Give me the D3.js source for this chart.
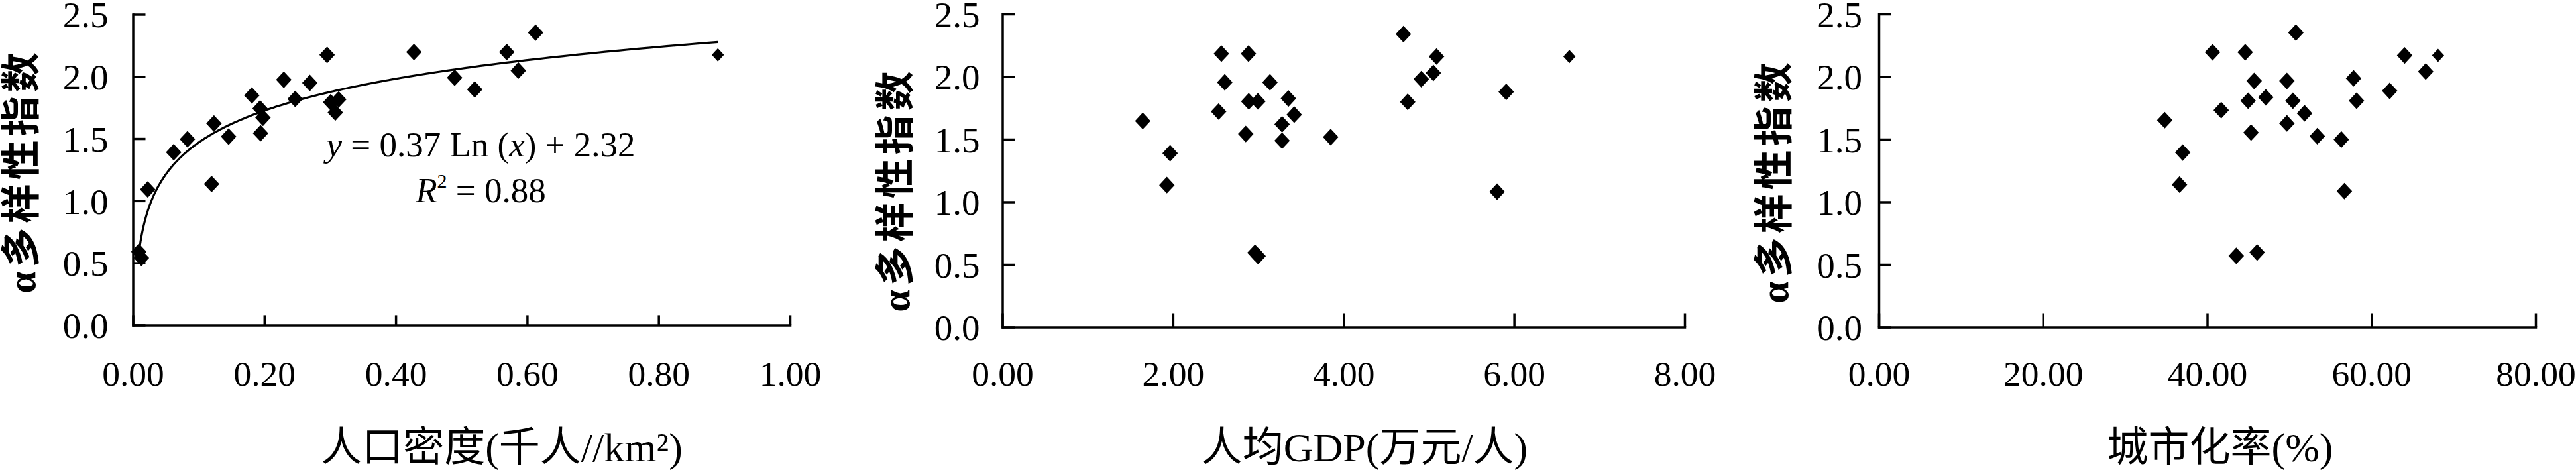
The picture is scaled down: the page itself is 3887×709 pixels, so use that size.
<!DOCTYPE html>
<html><head><meta charset="utf-8">
<script src="https://cdn.jsdelivr.net/npm/d3@7"></script>
<style>body{margin:0;background:#fff}</style>
</head><body><svg id="c"></svg>
<script>
// ---------- data ----------
const densityX = [0.009,0.013,0.0226,0.0621,0.0831,0.1198,0.1234,0.1457,0.181,0.1936,0.198,0.1943,0.2297,0.247,0.2693,0.2956,0.301,0.3132,0.3081,0.4277,0.4897,0.5203,0.569,0.5866,0.6129];
const densityY = [0.59,0.54,1.091,1.390,1.495,1.135,1.621,1.516,1.847,1.742,1.668,1.543,1.973,1.819,1.948,2.173,1.792,1.815,1.710,2.196,1.990,1.895,2.196,2.047,2.352];
const densityX2 = [0.8903];
const densityY2 = [2.173];

const gdpX = [1.646,1.967,1.929,2.568,2.886,2.608,3.138,2.889,2.996,3.354,2.536,3.422,3.280,2.854,3.280,3.850,2.962,2.999,4.703,4.753,5.091,5.054,4.912,5.908,5.801];
const gdpY = [1.646,1.388,1.134,2.183,2.183,1.954,1.954,1.802,1.802,1.825,1.721,1.696,1.619,1.542,1.488,1.517,0.594,0.567,2.339,1.798,2.160,2.029,1.980,1.878,1.081];
const gdpX2 = [6.649];
const gdpY2 = [2.160];

const urbanX = [34.83,37.02,36.63,40.65,44.63,50.80,45.72,49.71,44.99,47.14,50.44,41.71,51.86,49.71,45.34,43.54,46.08,53.41,56.34,56.71,57.83,58.19,62.23,64.05,66.62];
const urbanY = [1.652,1.394,1.138,2.194,2.194,2.351,1.965,1.965,1.807,1.834,1.807,1.732,1.707,1.626,1.553,0.569,0.596,1.524,1.498,1.086,1.986,1.807,1.886,2.169,2.040];
const urbanX2 = [68.12];
const urbanY2 = [2.169];

const yTicks = [0,0.5,1.0,1.5,2.0,2.5];
const densityTicks = [0,0.2,0.4,0.6,0.8,1.0];
const gdpTicks = [0,2,4,6,8];
const urbanTicks = [0,20,40,60,80];

const yTitle = "α多样性指数";
const xTitles = ["人口密度(千人//km²)", "人均GDP(万元/人)", "城市化率(%)"];
const trendA = 0.37, trendB = 2.32;
const eqR2 = "0.88";

// ---------- drawing ----------
const W = 3887, H = 709;
const svg = d3.select("#c").attr("width", W).attr("height", H);
svg.append("rect").attr("width", W).attr("height", H).attr("fill", "#fff");

const NUM = "'Liberation Serif','Times New Roman',serif";
const CJK = "'Liberation Serif','Noto Sans CJK SC',serif";

const panels = [
  {xs: densityX, ys: densityY, xs2: densityX2, ys2: densityY2, ticks: densityTicks, fmt: ".2f",
   title: xTitles[0], x0: 200.5, x1: 1192, yb: 490.4, yt: 21.5, ylGap: 37, xTick: 15,
   ytX: 32.5, ytY: 258, xtX: 757, trend: true},
  {xs: gdpX, ys: gdpY, xs2: gdpX2, ys2: gdpY2, ticks: gdpTicks, fmt: ".2f",
   title: xTitles[1], x0: 1512.5, x1: 2542, yb: 493.5, yt: 21, ylGap: 34, xTick: 21,
   ytX: 1352, ytY: 286, xtX: 2059, trend: false},
  {xs: urbanX, ys: urbanY, xs2: urbanX2, ys2: urbanY2, ticks: urbanTicks, fmt: ".2f",
   title: xTitles[2], x0: 2835, x1: 3826, yb: 493.5, yt: 21, ylGap: 25, xTick: 21,
   ytX: 2678, ytY: 273, xtX: 3350, trend: false}
];

function diamond(hw, hh) {
  return `M0,${-hh}L${hw},0L0,${hh}L${-hw},0Z`;
}

panels.forEach(p => {
  const x = d3.scaleLinear().domain([p.ticks[0], p.ticks[p.ticks.length - 1]]).range([p.x0, p.x1]);
  const y = d3.scaleLinear().domain([0, 2.5]).range([p.yb, p.yt]);

  // x axis
  const gx = svg.append("g").attr("transform", `translate(0,${p.yb})`)
    .call(d3.axisBottom(x).tickValues(p.ticks).tickFormat(d3.format(p.fmt))
      .tickSizeInner(-p.xTick).tickSizeOuter(0));
  gx.selectAll("path,line").attr("stroke", "#000").attr("stroke-width", 3.5);
  gx.select(".domain").attr("stroke-linecap", "square");
  gx.selectAll("text").attr("y", 582 - p.yb).attr("dy", 0)
    .attr("font-family", NUM).attr("font-size", 53.5).attr("fill", "#000");

  // y axis
  const gy = svg.append("g").attr("transform", `translate(${p.x0},0)`)
    .call(d3.axisLeft(y).tickValues(yTicks).tickFormat(d3.format(".1f"))
      .tickSizeInner(-19).tickSizeOuter(0).tickPadding(p.ylGap));
  gy.selectAll("path,line").attr("stroke", "#000").attr("stroke-width", 3.5);
  gy.select(".domain").attr("stroke-linecap", "square");
  gy.selectAll("text").attr("dy", "0.35em")
    .attr("font-family", NUM).attr("font-size", 55).attr("fill", "#000");

  // trend line
  if (p.trend) {
    const xmin = d3.min(p.xs.concat(p.xs2)), xmax = d3.max(p.xs.concat(p.xs2));
    const samples = d3.range(0, 301).map(i => xmin * Math.pow(xmax / xmin, i / 300));
    svg.append("path")
      .attr("d", d3.line().x(d => x(d)).y(d => y(trendA * Math.log(d) + trendB))(samples))
      .attr("fill", "none").attr("stroke", "#000").attr("stroke-width", 3.2);
  }

  // points
  const pts = p.xs.map((v, i) => [v, p.ys[i]]);
  svg.append("g").selectAll("path").data(pts).join("path")
    .attr("d", diamond(11.7, 12.6))
    .attr("transform", d => `translate(${x(d[0])},${y(d[1])})`)
    .attr("fill", "#000");
  const pts2 = p.xs2.map((v, i) => [v, p.ys2[i]]);
  svg.append("g").selectAll("path").data(pts2).join("path")
    .attr("d", diamond(9.2, 10))
    .attr("transform", d => `translate(${x(d[0])},${y(d[1])})`)
    .attr("fill", "#000");

  // y title
  svg.append("text")
    .attr("transform", `translate(${p.ytX},${p.ytY}) rotate(-90)`)
    .attr("text-anchor", "middle").attr("dominant-baseline", "central")
    .attr("font-family", CJK).attr("font-size", 60).attr("font-weight", "bold")
    .attr("letter-spacing", 6).attr("fill", "#000")
    .text(yTitle);

  // x title
  svg.append("text")
    .attr("x", p.xtX).attr("y", 696)
    .attr("text-anchor", "middle")
    .attr("font-family", CJK).attr("font-size", 62).attr("fill", "#000")
    .text(p.title);
});

// equation (panel 1)
const eq = svg.append("text").attr("x", 725.5).attr("y", 236)
  .attr("text-anchor", "middle").attr("font-family", NUM).attr("font-size", 53).attr("fill", "#000");
eq.append("tspan").attr("font-style", "italic").text("y");
eq.append("tspan").text(` = ${trendA} Ln (`);
eq.append("tspan").attr("font-style", "italic").text("x");
eq.append("tspan").text(`) + ${trendB}`);

const r2 = svg.append("text").attr("x", 725.5).attr("y", 305)
  .attr("text-anchor", "middle").attr("font-family", NUM).attr("font-size", 53).attr("fill", "#000");
r2.append("tspan").attr("font-style", "italic").text("R");
r2.append("tspan").attr("font-size", 30).attr("dy", -22).text("2");
r2.append("tspan").attr("dy", 22).text(` = ${eqR2}`);
</script>
</body></html>
